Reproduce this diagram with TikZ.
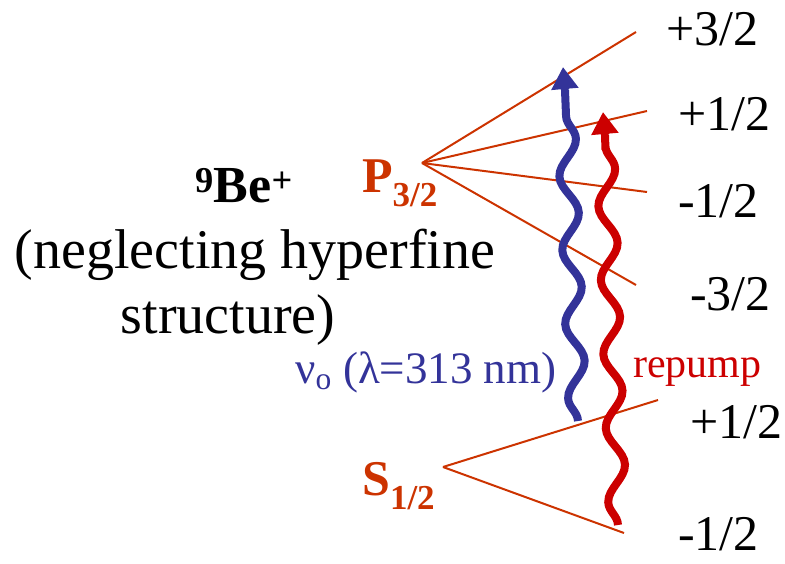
\documentclass[tikz,border=0pt]{standalone}
\usepackage{fontspec}
\setmainfont{Liberation Serif}
\usetikzlibrary{arrows.meta,decorations.pathmorphing}
\definecolor{termred}{HTML}{CC3300}
\definecolor{coolblue}{HTML}{333399}
\definecolor{pumpred}{HTML}{CC0000}

\begin{document}
\begin{tikzpicture}[x=1pt,y=-1pt,
  split/.style={termred,line width=2pt},
  mlabel/.style={anchor=base west,inner sep=0pt,font=\fontsize{50}{60}\selectfont},
  term/.style={anchor=base west,inner sep=0pt,termred,font=\fontsize{50}{60}\selectfont\bfseries},
  note/.style={anchor=base,inner sep=0pt,font=\fontsize{56}{66}\selectfont},
  wave/.style={line width=8pt,decorate,
    decoration={snake,amplitude=9pt,segment length=74pt,post length=8pt}},
  head/.style={line width=8pt,-{Triangle[length=22pt,width=26pt]}}]
  \useasboundingbox (0,0) rectangle (785,563);

  % ion and remark
  \node[note,font=\fontsize{52}{62}\selectfont\bfseries] (ion) at (244,202) {\textsuperscript{9}Be\textsuperscript{+}};
  \node[note] (neg) at (255,268) {(neglecting hyperfine};
  \node[note] (struct) at (228,333) {structure)};

  % P_{3/2} sublevels
  \coordinate (P) at (422,163);
  \coordinate (P3) at (636,32);
  \coordinate (P1) at (647,111);
  \coordinate (Pm1) at (647,192);
  \coordinate (Pm3) at (636,285);
  \foreach \e in {P3,P1,Pm1,Pm3}
    \draw[split] (P) -- (\e);
  \node[term] (Plab) at (362,192) {P\textsubscript{3/2}};
  \node[mlabel] (lP3) at (666,45) {+3/2};
  \node[mlabel] (lP1) at (678,130) {+1/2};
  \node[mlabel] (lPm1) at (678,217) {-1/2};
  \node[mlabel] (lPm3) at (690,310) {-3/2};

  % S_{1/2} sublevels
  \coordinate (S) at (443,467);
  \coordinate (S1) at (658,400);
  \coordinate (Sm1) at (624,533);
  \foreach \e in {S1,Sm1}
    \draw[split] (S) -- (\e);
  \node[term] (Slab) at (362,495) {S\textsubscript{1/2}};
  \node[mlabel] (lS1) at (690,438) {+1/2};
  \node[mlabel] (lSm1) at (678,550) {-1/2};

  % laser beams (wave, then head)
  \coordinate (blue0) at (578,421);
  \coordinate (blue1) at (565,90);
  \coordinate (bluetip) at (563,67);
  \coordinate (red0) at (618,525);
  \coordinate (red1) at (605,135);
  \coordinate (redtip) at (603,112);
  \draw[wave,coolblue] (blue0) -- (blue1);
  \draw[head,coolblue] (blue1) -- (bluetip);
  \draw[wave,pumpred] (red0) -- (red1);
  \draw[head,pumpred] (red1) -- (redtip);
  \node[anchor=base west,inner sep=0pt,coolblue,font=\fontsize{45}{54}\selectfont] (nu) at (295,383) {ν\textsubscript{o} (λ=313 nm)};
  \node[anchor=base west,inner sep=0pt,pumpred,font=\fontsize{42}{50}\selectfont] (rep) at (633,377) {repump};
\end{tikzpicture}
\end{document}
